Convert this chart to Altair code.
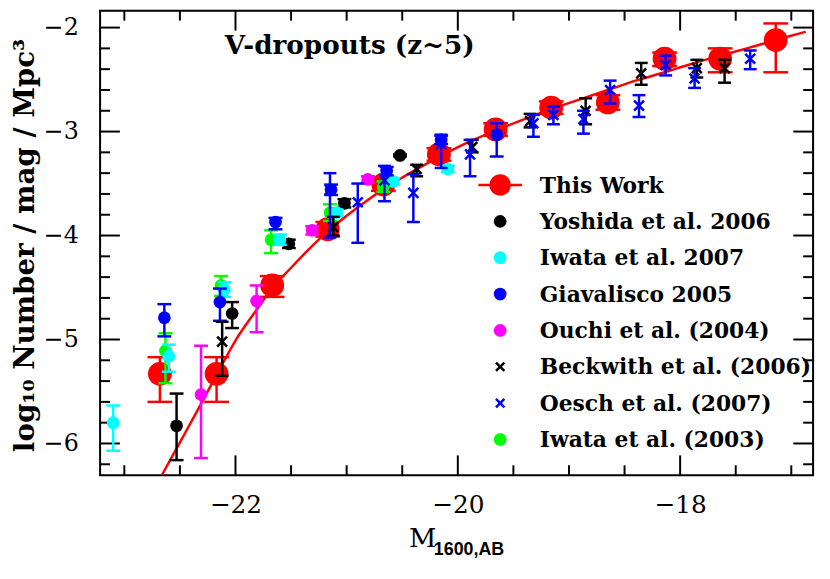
import altair as alt
import pandas as pd

# ---------------- data ----------------
tw_M   = [-22.68, -22.17, -21.67, -21.17, -20.67, -20.17, -19.66, -19.16, -18.65, -18.14, -17.64, -17.14]
tw_phi = [-5.33, -5.33, -4.48, -3.94, -3.51, -3.22, -2.98, -2.77, -2.72, -2.30, -2.30, -2.12]
tw_hi  = [-5.17, -5.17, -4.39, -3.87, -3.45, -3.16, -2.92, -2.71, -2.65, -2.24, -2.20, -1.96]
tw_lo  = [-5.60, -5.60, -4.59, -4.01, -3.57, -3.28, -3.04, -2.83, -2.79, -2.37, -2.43, -2.43]

fit_M   = [-22.66, -22.5, -22.3, -22.17, -22.0, -21.8, -21.68, -21.5, -21.3, -21.18, -21.0, -20.8,
           -20.67, -20.4, -20.17, -19.9, -19.66, -19.4, -19.16, -18.9, -18.65, -18.4, -18.14,
           -17.9, -17.64, -17.4, -17.14, -16.87]
fit_phi = [-6.30, -5.99, -5.60, -5.34, -5.01, -4.70, -4.52, -4.31, -4.09, -3.97, -3.81, -3.65,
           -3.555, -3.38, -3.245, -3.10, -2.99, -2.88, -2.785, -2.69, -2.60, -2.51, -2.43,
           -2.35, -2.27, -2.20, -2.12, -2.04]

yo_M   = [-22.53, -22.03, -21.52, -21.02, -20.52]
yo_phi = [-5.83, -4.75, -4.08, -3.69, -3.23]
yo_hi  = [-5.52, -4.64, -4.04, -3.65, -3.22]
yo_lo  = [-6.16, -4.89, -4.12, -3.73, -3.24]

iw7_M   = [-23.10, -22.60, -22.10, -21.60, -21.09, -20.58, -20.09]
iw7_phi = [-5.80, -5.16, -4.52, -4.04, -3.78, -3.48, -3.36]
iw7_hi  = [-5.635, -5.05, -4.45, -3.99, -3.75, -3.45, -3.33]
iw7_lo  = [-6.07, -5.31, -4.59, -4.09, -3.81, -3.51, -3.39]

gi_M   = [-22.64, -22.14, -21.64, -21.14, -20.64, -20.15, -19.65]
gi_phi = [-4.79, -4.64, -3.87, -3.56, -3.38, -3.08, -3.03]
gi_hi  = [-4.66, -4.51, -3.83, -3.51, -3.34, -3.04, -2.92]
gi_lo  = [-4.97, -4.82, -3.94, -3.61, -3.42, -3.12, -3.24]

ou_M   = [-22.31, -21.81, -21.31, -20.81]
ou_phi = [-5.53, -4.63, -3.95, -3.46]
ou_hi  = [-5.06, -4.48, -3.91, -3.43]
ou_lo  = [-6.14, -4.93, -3.99, -3.49]

be_M   = [-22.12, -21.12, -20.37, -19.87, -19.35, -18.85, -18.35, -17.85, -17.60]
be_phi = [-5.02, -3.92, -3.36, -3.15, -2.90, -2.80, -2.44, -2.39, -2.39]
be_hi  = [-4.83, -3.82, -3.32, -3.08, -2.83, -2.68, -2.34, -2.31, -2.31]
be_lo  = [-5.35, -4.00, -3.43, -3.20, -2.96, -2.93, -2.55, -2.48, -2.53]

oe_M   = [-21.15, -20.90, -20.66, -20.40, -20.15, -19.89, -19.32, -19.14, -18.87, -18.63, -18.37, -18.13, -17.87, -17.37]
oe_phi = [-3.56, -3.68, -3.47, -3.59, -3.12, -3.22, -2.92, -2.84, -2.88, -2.60, -2.75, -2.36, -2.49, -2.30]
oe_hi  = [-3.40, -3.50, -3.33, -3.41, -3.03, -3.08, -2.84, -2.76, -2.80, -2.51, -2.65, -2.27, -2.39, -2.22]
oe_lo  = [-4.02, -4.07, -3.67, -3.87, -3.35, -3.43, -3.05, -2.93, -3.02, -2.73, -2.86, -2.46, -2.58, -2.40]

i3_M   = [-22.63, -22.13, -21.68, -21.15, -20.67]
i3_phi = [-5.11, -4.48, -4.04, -3.78, -3.53]
i3_hi  = [-4.94, -4.39, -3.95, -3.70, -3.48]
i3_lo  = [-5.42, -4.58, -4.17, -3.86, -3.58]

x_major = [-22, -20, -18]
x_minor = [-23, -22.5, -21.5, -21, -20.5, -19.5, -19, -18.5, -17.5, -17]
y_major = [-2, -3, -4, -5, -6]
y_minor = [-6.2, -5.8, -5.6, -5.4, -5.2, -4.8, -4.6, -4.4, -4.2, -3.8, -3.6, -3.4, -3.2,
           -2.8, -2.6, -2.4, -2.2]

legend_labels = ["This Work", "Yoshida et al. 2006", "Iwata et al. 2007", "Giavalisco 2005",
                 "Ouchi et al. (2004)", "Beckwith et al. (2006)", "Oesch et al. (2007)",
                 "Iwata et al. (2003)"]

# ---------------- styling ----------------
W, H = 720, 469
RED, BLACK, CYAN, BLUE, MAG, GREEN = "#ff0000", "#000000", "#00ffff", "#0000ff", "#ff00ff", "#00ff00"
SERIF = "DejaVu Serif"
CAP = "M-1,0L1,0"
XSH = "M-1,-1L1,1M-1,1L1,-1"
DOT = 165      # small filled circles
BIG = 580      # "This Work" circles

xs = alt.Scale(domain=[-23.218, -16.804], nice=False, zero=False)
ys = alt.Scale(domain=[-6.305, -1.838], nice=False, zero=False)
xaxis = alt.Axis(values=x_major, title="", ticks=False, tickSize=0, domain=False, grid=False,
                 labelFont=SERIF, labelFontSize=25, labelPadding=18, labelColor="black", format="d")
yaxis = alt.Axis(values=y_major, title="", ticks=False, tickSize=0, domain=False, grid=False,
                 labelFont=SERIF, labelFontSize=24, labelPadding=22, labelColor="black", format="d")


def X(f):
    return alt.X(f"{f}:Q", scale=xs, axis=xaxis)


def Y(f):
    return alt.Y(f"{f}:Q", scale=ys, axis=yaxis)


def table(M, phi, lo, hi):
    return pd.DataFrame({"M": M, "phi": phi, "lo": lo, "hi": hi})


def series(d, color, marker, msize, capsize, ew=2.5):
    base = alt.Chart(d)
    out = [
        base.mark_rule(color=color, strokeWidth=ew).encode(x=X("M"), y=Y("lo"), y2=alt.Y2("hi:Q")),
        base.mark_point(shape=CAP, filled=False, color=color, strokeWidth=ew, size=capsize,
                        opacity=1).encode(x=X("M"), y=Y("lo")),
        base.mark_point(shape=CAP, filled=False, color=color, strokeWidth=ew, size=capsize,
                        opacity=1).encode(x=X("M"), y=Y("hi")),
    ]
    if marker == "circle":
        out.append(base.mark_circle(color=color, size=msize, opacity=1).encode(x=X("M"), y=Y("phi")))
    else:
        out.append(base.mark_point(shape=XSH, filled=False, color=color, strokeWidth=2.5,
                                   size=msize, opacity=1).encode(x=X("M"), y=Y("phi")))
    return out


layers = []

# frame ticks (inward, on all four sides)
for vals, L in [(x_major, 20), (x_minor, 10)]:
    dx = pd.DataFrame({"v": vals})
    layers.append(alt.Chart(dx).mark_rule(color="black", strokeWidth=2).encode(
        x=X("v"), y=alt.value(H), y2=alt.value(H - L)))
    layers.append(alt.Chart(dx).mark_rule(color="black", strokeWidth=2).encode(
        x=X("v"), y=alt.value(0), y2=alt.value(L)))
for vals, L in [(y_major, 20), (y_minor, 10)]:
    dy = pd.DataFrame({"v": vals})
    layers.append(alt.Chart(dy).mark_rule(color="black", strokeWidth=2).encode(
        y=Y("v"), x=alt.value(0), x2=alt.value(L)))
    layers.append(alt.Chart(dy).mark_rule(color="black", strokeWidth=2).encode(
        y=Y("v"), x=alt.value(W), x2=alt.value(W - L)))

# fit line
layers.append(alt.Chart(pd.DataFrame({"M": fit_M, "phi": fit_phi})).mark_line(
    color=RED, strokeWidth=2.5, interpolate="monotone").encode(x=X("M"), y=Y("phi")))

# data series
layers += series(table(tw_M, tw_phi, tw_lo, tw_hi), RED, "circle", BIG, 625)
layers += series(table(i3_M, i3_phi, i3_lo, i3_hi), GREEN, "circle", DOT, 196)
layers += series(table(ou_M, ou_phi, ou_lo, ou_hi), MAG, "circle", DOT, 196)
layers += series(table(yo_M, yo_phi, yo_lo, yo_hi), BLACK, "circle", DOT, 196)
layers += series(table(iw7_M, iw7_phi, iw7_lo, iw7_hi), CYAN, "circle", DOT, 196)
layers += series(table(gi_M, gi_phi, gi_lo, gi_hi), BLUE, "circle", DOT, 196)
layers += series(table(be_M, be_phi, be_lo, be_hi), BLACK, "x", 100, 169)
layers += series(table(oe_M, oe_phi, oe_lo, oe_hi), BLUE, "x", 100, 169)

# legend (drawn inside the plot)
one = pd.DataFrame({"k": [0]})
leg_colors = [RED, BLACK, CYAN, BLUE, MAG, BLACK, BLUE, GREEN]
leg_kind = ["big", "circle", "circle", "circle", "circle", "x", "x", "circle"]
row0, step = 176, 36.7
for i, (lab, col, kind) in enumerate(zip(legend_labels, leg_colors, leg_kind)):
    yc = row0 + i * step
    if kind == "big":
        layers.append(alt.Chart(one).mark_rule(color=col, strokeWidth=2.5).encode(
            x=alt.value(382), x2=alt.value(426), y=alt.value(yc)))
        layers.append(alt.Chart(one).mark_circle(color=col, size=470, opacity=1).encode(
            x=alt.value(404), y=alt.value(yc)))
    elif kind == "circle":
        layers.append(alt.Chart(one).mark_circle(color=col, size=DOT, opacity=1).encode(
            x=alt.value(404), y=alt.value(yc)))
    else:
        layers.append(alt.Chart(one).mark_point(shape=XSH, filled=False, color=col, strokeWidth=2.5,
                                                size=72, opacity=1).encode(
            x=alt.value(404), y=alt.value(yc)))
    layers.append(alt.Chart(one).mark_text(text=lab, font=SERIF, fontWeight="bold", fontSize=22,
                                           align="left", baseline="alphabetic", color="black").encode(
        x=alt.value(444), y=alt.value(yc + 7.7)))

# panel label
layers.append(alt.Chart(one).mark_text(text="V-dropouts (z~5)", font=SERIF, fontWeight="bold",
                                       fontSize=26.5, align="left", baseline="alphabetic",
                                       color="black").encode(x=alt.value(126), y=alt.value(44)))

# axis titles
layers.append(alt.Chart(one).mark_text(text="log\u2081\u2080 Number / mag / Mpc\u00b3", font=SERIF,
                                       fontWeight="bold", fontSize=28, angle=270, align="center",
                                       baseline="middle", color="black").encode(
    x=alt.value(-75), y=alt.value(237)))
layers.append(alt.Chart(one).mark_text(text="M", font=SERIF, fontSize=27, align="left",
                                       baseline="alphabetic", color="black").encode(
    x=alt.value(312), y=alt.value(542)))
layers.append(alt.Chart(one).mark_text(text="1600,AB", font="Liberation Sans", fontWeight="bold",
                                       fontSize=18, align="left", baseline="alphabetic",
                                       color="black").encode(x=alt.value(337), y=alt.value(550)))

chart = alt.layer(*layers).properties(
    width=W, height=H,
    padding={"left": 93, "top": 0, "right": 9, "bottom": 95},
    autosize=alt.AutoSizeParams(type="none"),
).configure_view(stroke="black", strokeWidth=2)

chart.save("out.html", embed_options={"renderer": "svg", "actions": False})
